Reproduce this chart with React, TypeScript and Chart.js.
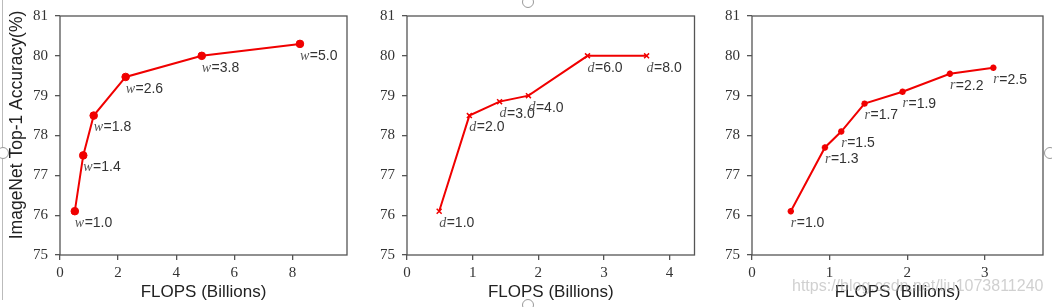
import React, { useEffect, useRef } from "react";
import { Chart, registerables } from "chart.js";

Chart.register(...registerables);

// ---- data ----
const widthFlops = [0.51, 0.8, 1.16, 2.26, 4.88, 8.26];
const widthAcc = [76.1, 77.5, 78.5, 79.47, 80.0, 80.3];
const widthLabels = ["1.0", "1.4", "1.8", "2.6", "3.8", "5.0"];

const depthFlops = [0.49, 0.95, 1.41, 1.85, 2.75, 3.65];
const depthAcc = [76.1, 78.5, 78.85, 79.0, 80.0, 80.0];
const depthLabels = ["1.0", "2.0", "3.0", "4.0", "6.0", "8.0"];

const resFlops = [0.5, 0.94, 1.15, 1.45, 1.94, 2.55, 3.11];
const resAcc = [76.1, 77.7, 78.1, 78.8, 79.1, 79.55, 79.7];
const resLabels = ["1.0", "1.3", "1.5", "1.7", "1.9", "2.2", "2.5"];

const yMin = 75;
const yMax = 81;
const xTitle = "FLOPS (Billions)";
const yTitle = "ImageNet Top-1 Accuracy(%)";
const watermark = "https://blog.csdn.net/liu1073811240";

type Panel = {
  left: number;
  width: number;
  yAxisWidth: number;
  rightPad: number;
  xMax: number;
  xStep: number;
  symbol: string;
  flops: number[];
  acc: number[];
  labels: string[];
  pointStyle: string;
  pointRadius: number;
  pointBorderWidth: number;
  showYTitle: boolean;
};

const panels: Panel[] = [
  {
    left: 0, width: 352, yAxisWidth: 60, rightPad: 3, xMax: 9.88, xStep: 2,
    symbol: "w", flops: widthFlops, acc: widthAcc, labels: widthLabels,
    pointStyle: "circle", pointRadius: 3.8, pointBorderWidth: 1, showYTitle: true,
  },
  {
    left: 352, width: 348, yAxisWidth: 55, rightPad: 4, xMax: 4.38, xStep: 1,
    symbol: "d", flops: depthFlops, acc: depthAcc, labels: depthLabels,
    pointStyle: "crossRot", pointRadius: 3.5, pointBorderWidth: 1.5, showYTitle: false,
  },
  {
    left: 700, width: 352, yAxisWidth: 52, rightPad: 9, xMax: 3.75, xStep: 1,
    symbol: "r", flops: resFlops, acc: resAcc, labels: resLabels,
    pointStyle: "star", pointRadius: 3.2, pointBorderWidth: 2, showYTitle: false,
  },
];

const decorPlugin = {
  id: "panelDecor",
  afterDatasetsDraw(chart: any, _args: any, opts: any) {
    const { ctx, chartArea } = chart;
    const meta = chart.getDatasetMeta(0);
    ctx.save();
    ctx.textBaseline = "middle";
    ctx.textAlign = "left";
    meta.data.forEach((pt: any, i: number) => {
      const x = pt.x;
      const y = pt.y + 12;
      ctx.fillStyle = "#555";
      ctx.font = 'italic 14px "Liberation Serif"';
      ctx.fillText(opts.symbol, x, y);
      const w = ctx.measureText(opts.symbol).width;
      ctx.fillStyle = "#333";
      ctx.font = '14px "Liberation Sans"';
      ctx.fillText("=" + opts.labels[i], x + w + 0.5, y);
    });
    ctx.strokeStyle = "#555";
    ctx.lineWidth = 1.3;
    ctx.strokeRect(
      chartArea.left,
      chartArea.top,
      chartArea.right - chartArea.left,
      chartArea.bottom - chartArea.top
    );
    if (opts.yTitle) {
      ctx.save();
      ctx.translate(17, 125);
      ctx.rotate(-Math.PI / 2);
      ctx.font = '17.5px "Liberation Sans"';
      ctx.textAlign = "center";
      ctx.fillStyle = "#222";
      ctx.fillText(opts.yTitle, 0, 0);
      ctx.restore();
    }
    ctx.restore();
  },
};

function PanelChart({ p }: { p: Panel }) {
  const ref = useRef<HTMLCanvasElement | null>(null);
  useEffect(() => {
    if (!ref.current) return;
    const tickFont = { family: '"Liberation Serif", serif', size: 15 };
    const chart = new Chart(ref.current, {
      type: "line",
      data: {
        datasets: [
          {
            data: p.flops.map((x, i) => ({ x, y: p.acc[i] })),
            borderColor: "#f00000",
            backgroundColor: "#f00000",
            borderWidth: 2,
            pointStyle: p.pointStyle as any,
            pointRadius: p.pointRadius,
            pointBorderWidth: p.pointBorderWidth,
            pointBackgroundColor: "#f00000",
            pointBorderColor: "#f00000",
            tension: 0,
          },
        ],
      },
      options: {
        responsive: false,
        animation: false,
        devicePixelRatio: 1,
        layout: { padding: { top: 12, right: p.rightPad, left: 0, bottom: 0 } },
        plugins: {
          legend: { display: false },
          tooltip: { enabled: false },
          panelDecor: {
            symbol: p.symbol,
            labels: p.labels,
            yTitle: p.showYTitle ? yTitle : null,
          },
        } as any,
        scales: {
          x: {
            type: "linear",
            min: 0,
            max: p.xMax,
            afterFit: (s: any) => {
              s.height = 52;
            },
            ticks: {
              stepSize: p.xStep,
              includeBounds: false,
              font: tickFont,
              color: "#333",
              padding: 4,
              maxRotation: 0,
            },
            grid: {
              drawOnChartArea: false,
              drawTicks: true,
              tickLength: 5,
              color: "#555",
              lineWidth: 1.3,
            },
            border: { display: false },
            title: {
              display: true,
              text: xTitle,
              font: { family: '"Liberation Sans", sans-serif', size: 17 },
              color: "#222",
              padding: { top: 0, bottom: 4 },
            },
          },
          y: {
            type: "linear",
            min: yMin,
            max: yMax,
            afterFit: (s: any) => {
              s.width = p.yAxisWidth;
            },
            ticks: {
              stepSize: 1,
              includeBounds: false,
              font: tickFont,
              color: "#333",
              padding: 7,
            },
            grid: {
              drawOnChartArea: false,
              drawTicks: true,
              tickLength: 5,
              color: "#555",
              lineWidth: 1.3,
            },
            border: { display: false },
          },
        },
      },
      plugins: [decorPlugin as any],
    });
    return () => chart.destroy();
  }, [p]);
  return (
    <canvas
      ref={ref}
      width={p.width}
      height={307}
      style={{ position: "absolute", left: p.left, top: 0, width: p.width, height: 307 }}
    />
  );
}

const handle = (left: number, top: number) => (
  <div
    style={{
      position: "absolute",
      left: left - 6,
      top: top - 6,
      width: 10,
      height: 10,
      borderRadius: "50%",
      border: "1.5px solid #999",
      background: "#fff",
    }}
  />
);

export default function App() {
  return (
    <div
      style={{
        position: "fixed",
        left: 0,
        top: 0,
        width: 1052,
        height: 307,
        background: "#fff",
        overflow: "hidden",
      }}
    >
      {panels.map((p, i) => (
        <PanelChart key={i} p={p} />
      ))}
      <div
        style={{
          position: "absolute",
          left: 2,
          top: 0,
          width: 1,
          height: 300,
          background: "#bbb",
        }}
      />
      {handle(3, 153)}
      {handle(528, 2)}
      {handle(528, 305)}
      {handle(1050, 153)}
      <div
        style={{
          position: "absolute",
          left: 792,
          top: 277,
          fontFamily: '"Liberation Sans", sans-serif',
          fontSize: 16,
          color: "rgba(170,170,170,0.55)",
          whiteSpace: "nowrap",
          pointerEvents: "none",
        }}
      >
        {watermark}
      </div>
    </div>
  );
}
